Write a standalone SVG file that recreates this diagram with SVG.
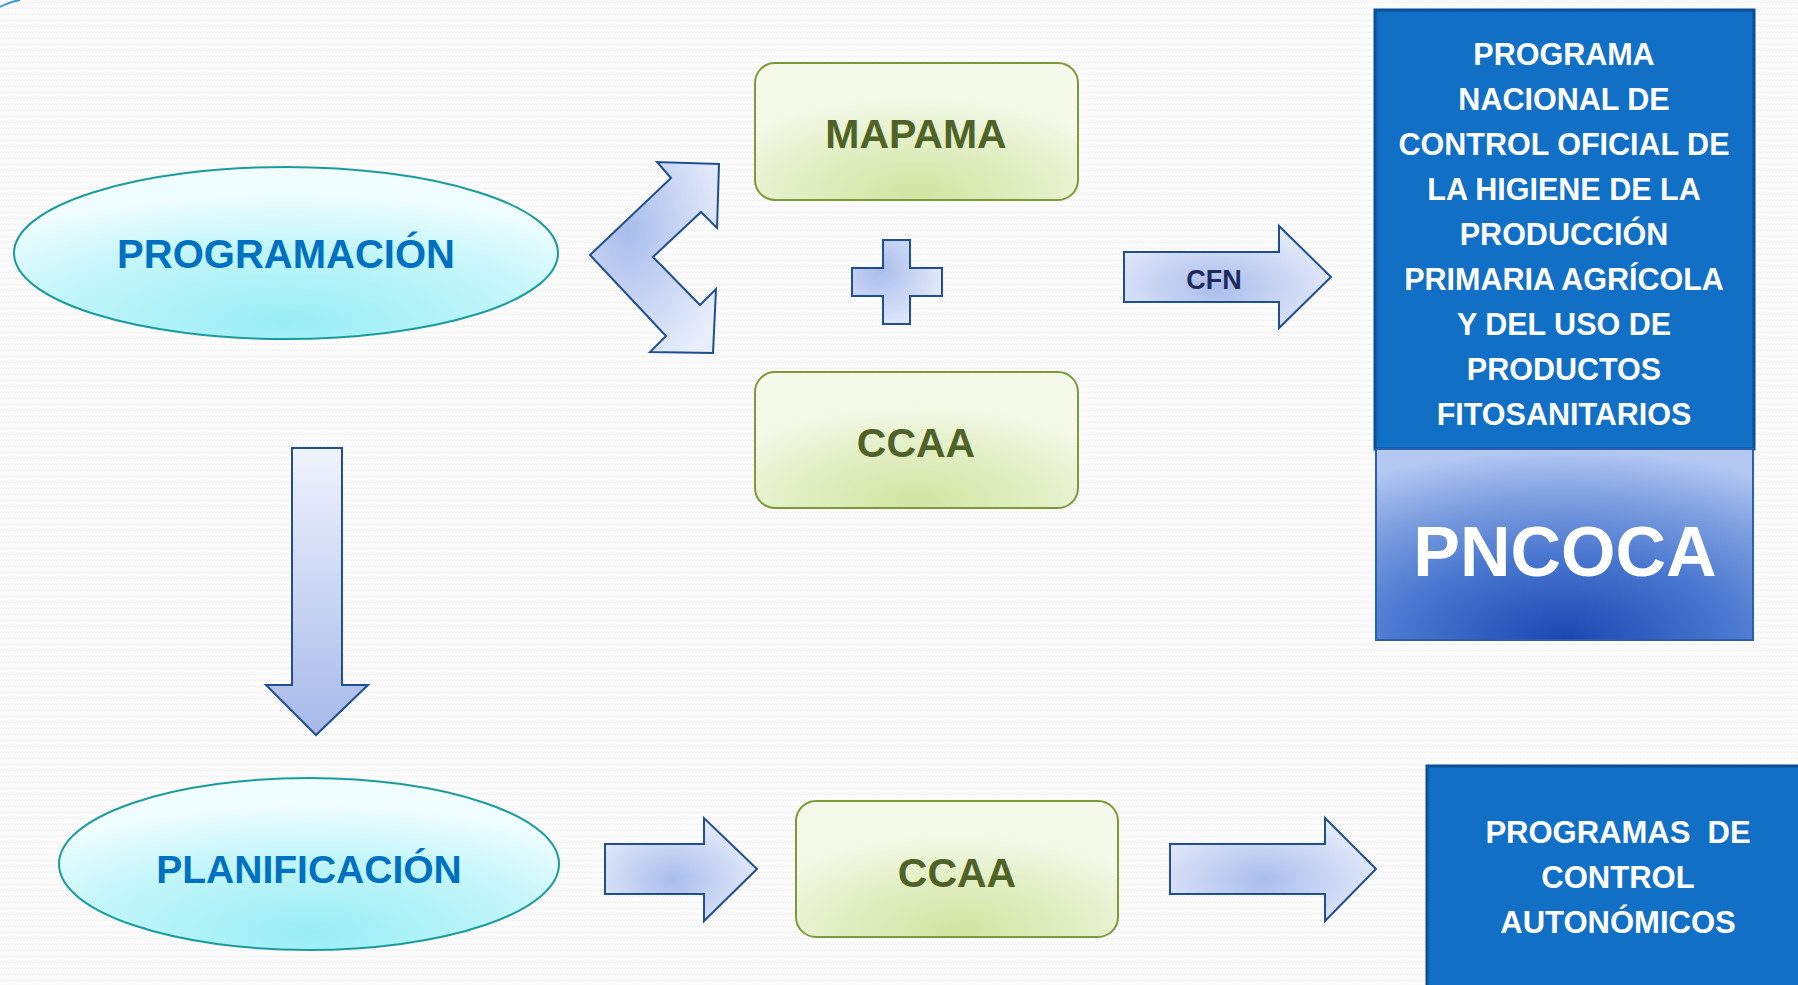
<svg xmlns="http://www.w3.org/2000/svg" width="1798" height="985" viewBox="0 0 1798 985">
<defs>
  <pattern id="bg" width="6" height="6" patternUnits="userSpaceOnUse">
    <rect width="6" height="6" fill="#fbfbfb"/>
    <path d="M0,3 L1.5,1.5 L3,3 L4.5,1.5 L6,3" fill="none" stroke="#f1f1f1" stroke-width="1"/>
  </pattern>
  <radialGradient id="gEll" cx="0.5" cy="0.9" r="0.75">
    <stop offset="0" stop-color="#98eef4"/>
    <stop offset="0.6" stop-color="#c4f6fa"/>
    <stop offset="1" stop-color="#f0fdfe"/>
  </radialGradient>
  <radialGradient id="gGreen" cx="0.5" cy="0.95" r="0.7">
    <stop offset="0" stop-color="#d2e5a2"/>
    <stop offset="0.6" stop-color="#e4f0c8"/>
    <stop offset="1" stop-color="#f4f9ea"/>
  </radialGradient>
  <radialGradient id="gArrow" cx="0.45" cy="0.6" r="0.7">
    <stop offset="0" stop-color="#aabdec"/>
    <stop offset="1" stop-color="#eef2fc"/>
  </radialGradient>
  <radialGradient id="gBent" cx="0.3" cy="0.35" r="0.8">
    <stop offset="0" stop-color="#a9bdec"/>
    <stop offset="1" stop-color="#e8eefb"/>
  </radialGradient>
  <linearGradient id="gDown" x1="0" y1="0" x2="0" y2="1">
    <stop offset="0" stop-color="#eff3fc"/>
    <stop offset="1" stop-color="#a6b9ea"/>
  </linearGradient>
  <radialGradient id="gPn" cx="0.5" cy="1" r="1">
    <stop offset="0" stop-color="#1c46b2"/>
    <stop offset="0.45" stop-color="#4a78d0"/>
    <stop offset="0.75" stop-color="#7fa0e0"/>
    <stop offset="1" stop-color="#b4c8f2"/>
  </radialGradient>
  <style>
    .ell{fill:url(#gEll);stroke:#1a9c9c;stroke-width:2}
    .ellTxt{font-family:"Liberation Sans",Arial,sans-serif;font-weight:bold;fill:#0070c0;text-anchor:middle}
    .green{fill:url(#gGreen);stroke:#7d9a38;stroke-width:2}
    .greenTxt{font-family:"Liberation Sans",Arial,sans-serif;font-weight:bold;fill:#4f6228;text-anchor:middle;font-size:41px}
    .arr{stroke:#1f4f8f;stroke-width:2;stroke-linejoin:miter}
    .blue{fill:#1170c6;stroke:#0b4f99;stroke-width:3}
    .wTxt{font-family:"Liberation Sans",Arial,sans-serif;font-weight:bold;fill:#ffffff;text-anchor:middle}
  </style>
</defs>
<rect width="1798" height="985" fill="url(#bg)"/>
<path d="M0,7 Q9,2 20,0" fill="none" stroke="#3a9ad9" stroke-width="2"/>

<g id="connectors">
  <polygon class="arr" fill="url(#gBent)" points="590,255 671,178 657,162 719,164 717,228 701,212 653,257 700,305 716,289 713,353 650,352 666,336"/>
  <polygon class="arr" fill="url(#gDown)" points="292,448 342,448 342,685 368,685 316,735 266,685 292,685"/>
  <g id="cfn">
    <polygon class="arr" fill="url(#gArrow)" points="1124,252 1279,252 1279,226 1331,277 1279,328 1279,302 1124,302"/>
    <text x="1214" y="289" font-family="'Liberation Sans',Arial,sans-serif" font-weight="bold" font-size="27" fill="#1c2a5c" text-anchor="middle">CFN</text>
  </g>
  <polygon class="arr" fill="url(#gArrow)" points="605,844 704,844 704,818 757,869 704,921 704,894 605,894"/>
  <polygon class="arr" fill="url(#gArrow)" points="1170,844 1325,844 1325,818 1376,869 1325,921 1325,894 1170,894"/>
</g>

<g id="plus">
  <path class="arr" fill="url(#gBent)" d="M883,240 H910 V268 H942 V296 H910 V324 H883 V296 H852 V268 H883 Z"/>
</g>

<g id="programacion">
  <ellipse class="ell" cx="286" cy="253" rx="272" ry="86"/>
  <text class="ellTxt" x="286" y="268" font-size="40">PROGRAMACIÓN</text>
</g>

<g id="mapama">
  <rect class="green" x="755" y="63" width="323" height="137" rx="20"/>
  <text class="greenTxt" x="916" y="148">MAPAMA</text>
</g>

<g id="ccaa1">
  <rect class="green" x="755" y="372" width="323" height="136" rx="20"/>
  <text class="greenTxt" x="916" y="457">CCAA</text>
</g>

<g id="programa-nacional">
  <rect class="blue" x="1375" y="10" width="379" height="439"/>
  <g class="wTxt" font-size="30.5">
    <text x="1564" y="65">PROGRAMA</text>
    <text x="1564" y="110">NACIONAL DE</text>
    <text x="1564" y="155">CONTROL OFICIAL DE</text>
    <text x="1564" y="200">LA HIGIENE DE LA</text>
    <text x="1564" y="245">PRODUCCIÓN</text>
    <text x="1564" y="290">PRIMARIA AGRÍCOLA</text>
    <text x="1564" y="335">Y DEL USO DE</text>
    <text x="1564" y="380">PRODUCTOS</text>
    <text x="1564" y="425">FITOSANITARIOS</text>
  </g>
</g>

<g id="pncoca">
  <rect x="1376" y="449" width="377" height="191" fill="url(#gPn)" stroke="#2a5fae" stroke-width="2"/>
  <text class="wTxt" x="1565" y="576" font-size="70">PNCOCA</text>
</g>

<g id="planificacion">
  <ellipse class="ell" cx="309" cy="864" rx="250" ry="86"/>
  <text class="ellTxt" x="309" y="883" font-size="39">PLANIFICACIÓN</text>
</g>

<g id="ccaa2">
  <rect class="green" x="796" y="801" width="322" height="136" rx="20"/>
  <text class="greenTxt" x="957" y="887">CCAA</text>
</g>

<g id="programas-autonomicos">
  <rect class="blue" x="1427" y="766" width="380" height="230"/>
  <g class="wTxt" font-size="31">
    <text x="1618" y="843" xml:space="preserve">PROGRAMAS  DE</text>
    <text x="1618" y="888">CONTROL</text>
    <text x="1618" y="933">AUTONÓMICOS</text>
  </g>
</g>
</svg>
